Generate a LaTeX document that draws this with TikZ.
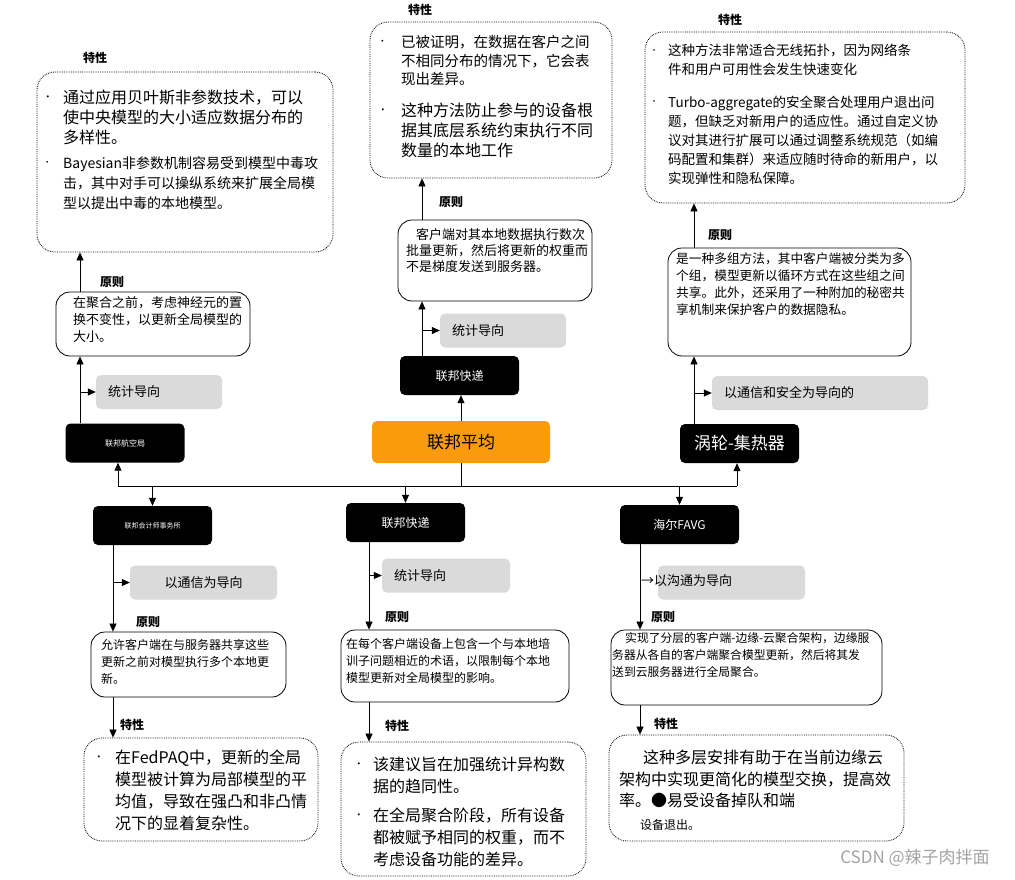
\documentclass[tikz,border=0pt]{standalone}
\usepackage{fontspec}
\setmainfont{Noto Sans CJK SC}
\usepackage{graphicx}
\usetikzlibrary{arrows.meta}
\definecolor{Orng}{HTML}{F99B0C}
\definecolor{Grey}{HTML}{DADADA}
\definecolor{Mark}{HTML}{A3A3A3}
\newcommand{\fsz}[2]{\fontsize{#1}{#2}\selectfont}
\newcommand{\bl}[1][20pt]{\makebox[#1][l]{\raisebox{0.2em}{\scalebox{0.6}{•}}}}
\newcommand{\ind}[1][20pt]{\hspace*{#1}}

\begin{document}
\begin{tikzpicture}[x=1pt,y=-1pt,
  feat/.style={draw,densely dotted,line width=0.8pt,rounded corners=18pt},
  prin/.style={draw,line width=0.8pt,rounded corners=14pt},
  grey/.style={fill=Grey,rounded corners=5pt,minimum height=34pt,inner xsep=12pt,align=left,font=\fsz{13}{15}},
  blk/.style={fill=black,text=white,rounded corners=5pt,minimum width=119pt,minimum height=39pt,inner sep=0pt},
  lab/.style={font=\fsz{12}{14}\bfseries},
  txt/.style={anchor=north west,align=left,inner sep=0pt},
  arr/.style={-{Triangle[length=8pt,width=7pt]},line width=0.7pt}]
  \fill[white] (0,0) rectangle (1015,880);

  % upper row
  \node[feat,minimum width=296pt,minimum height=180pt] (tl) at (185,162) {};
  \node[feat,minimum width=242pt,minimum height=156pt] (tc) at (491,100) {};
  \node[feat,minimum width=320pt,minimum height=171pt] (tr) at (805,117.5) {};
  \node[prin,minimum width=194pt,minimum height=64pt] (pl) at (153,324) {};
  \node[prin,minimum width=194pt,minimum height=81pt] (pc) at (495,260.5) {};
  \node[prin,minimum width=243pt,minimum height=108pt] (pr) at (789.5,302) {};
  \node[grey,text width=102pt] (gl) at (159,392) {统计导向};
  \node[grey,text width=102pt] (gc) at (503,330.5) {统计导向};
  \node[grey,text width=192pt] (gr) at (820,393) {以通信和安全为导向的};
  \node[blk,font=\fsz{8}{10}] (bl) at (125,443) {联邦航空局};
  \node[blk,font=\fsz{12}{14}] (bc) at (459.5,375.5) {联邦快递};
  \node[blk,font=\fsz{17}{20}] (br) at (739.5,443.5) {涡轮-集热器};
  \node[fill=Orng,rounded corners=5pt,minimum width=178pt,minimum height=42pt,font=\fsz{17}{20}] (fa) at (461,442) {联邦平均};

  % lower row
  \node[blk,font=\fsz{7}{9}] (bml) at (152.5,525.5) {联邦会计师事务所};
  \node[blk,font=\fsz{12}{14}] (bmc) at (405.5,522.5) {联邦快递};
  \node[blk,font=\fsz{12}{14}] (bmr) at (679.5,524.5) {海尔FAVG};
  \node[grey,text width=123pt,align=center] (gml) at (203.5,582.5) {以通信为导向};
  \node[grey,text width=104pt] (gmc) at (446,575.5) {统计导向};
  \node[grey,minimum width=147pt] (gmr) at (731.5,582.5) {};
  \node[font=\fsz{13}{15},anchor=west,inner sep=0pt] (gmrt) at (641,581) {→以沟通为导向};
  \node[prin,minimum width=195pt,minimum height=65pt] (pml) at (188.5,664.5) {};
  \node[prin,minimum width=228pt,minimum height=72pt] (pmc) at (455,666) {};
  \node[prin,minimum width=271pt,minimum height=75pt] (pmr) at (746.5,667.5) {};
  \node[feat,minimum width=234pt,minimum height=103pt] (fml) at (201,789.5) {};
  \node[feat,minimum width=245pt,minimum height=134pt] (fmc) at (463.5,809) {};
  \node[feat,minimum width=295pt,minimum height=106pt] (fmr) at (756.5,788) {};

  % labels
  \foreach \n/\x/\y in {ka/95/58,kb/420/10,kc/730/20,kd/132/725,ke/397/726,kf/666/724}
    \node[lab] (\n) at (\x,\y) {特性};
  \foreach \n/\x/\y in {ya/112/282,yb/451/202,yc/720/235,yd/148/622,ye/397/617,yf/663/617}
    \node[lab] (\n) at (\x,\y) {原则};

  % texts
  \node[txt,font=\fsz{16}{20}] (tla) at (43,90) {\bl 通过应用贝叶斯非参数技术，可以\\
    \ind 使中央模型的大小适应数据分布的\\ \ind 多样性。};
  \node[txt,font=\fsz{14}{20}] (tlb) at (43,156) {\bl Bayesian非参数机制容易受到模型中毒攻\\
    \ind 击，其中对手可以操纵系统来扩展全局模\\ \ind 型以提出中毒的本地模型。};
  \node[txt,font=\fsz{14.5}{18.5}] (tca) at (378,35) {\bl[23pt]已被证明，在数据在客户之间\\
    \ind[23pt]不相同分布的情况下，它会表\\ \ind[23pt]现出差异。};
  \node[txt,font=\fsz{16}{20}] (tcb) at (378,103) {\bl[23pt]这种方法防止参与的设备根\\
    \ind[23pt]据其底层系统约束执行不同\\ \ind[23pt]数量的本地工作};
  \node[txt,font=\fsz{13.5}{19}] (tra) at (650,44) {\bl[18pt]这种方法非常适合无线拓扑，因为网络条\\
    \ind[18pt]件和用户可用性会发生快速变化};
  \node[txt,font=\fsz{13.5}{19}] (trb) at (650,96) {\bl[18pt]Turbo-aggregate的安全聚合处理用户退出问\\
    \ind[18pt]题，但缺乏对新用户的适应性。通过自定义协\\
    \ind[18pt]议对其进行扩展可以通过调整系统规范（如编\\
    \ind[18pt]码配置和集群）来适应随时待命的新用户，以\\
    \ind[18pt]实现弹性和隐私保障。};
  \node[txt,font=\fsz{13}{17}] (plt) at (73,296) {在聚合之前，考虑神经元的置\\换不变性，以更新全局模型的\\大小。};
  \node[txt,font=\fsz{13}{16}] (pct) at (406,228) {\ind[10pt]客户端对其本地数据执行数次\\批量更新，然后将更新的权重而\\不是梯度发送到服务器。};
  \node[txt,font=\fsz{12.7}{17}] (prt) at (676,253) {是一种多组方法，其中客户端被分类为多\\个组，模型更新以循环方式在这些组之间\\共享。此外，还采用了一种附加的秘密共\\享机制来保护客户的数据隐私。};
  \node[txt,font=\fsz{12}{17}] (pmlt) at (101,639) {允许客户端在与服务器共享这些\\更新之前对模型执行多个本地更\\新。};
  \node[txt,font=\fsz{12}{17}] (pmct) at (346,638) {在每个客户端设备上包含一个与本地培\\训子问题相近的术语，以限制每个本地\\模型更新对全局模型的影响。};
  \node[txt,font=\fsz{11.8}{17}] (pmrt) at (612,632) {\ind[13pt]实现了分层的客户端-边缘-云聚合架构，边缘服\\务器从各自的客户端聚合模型更新，然后将其发\\送到云服务器进行全局聚合。};
  \node[txt,font=\fsz{16}{22}] (fmlt) at (94,750) {\bl[21pt]在FedPAQ中，更新的全局\\
    \ind[21pt]模型被计算为局部模型的平\\ \ind[21pt]均值，导致在强凸和非凸情\\ \ind[21pt]况下的显着复杂性。};
  \node[txt,font=\fsz{16}{22}] (fmct) at (354,757) {\bl[19pt]该建议旨在加强统计异构数\\
    \ind[19pt]据的趋同性。\\[7pt] \bl[19pt]在全局聚合阶段，所有设备\\
    \ind[19pt]都被赋予相同的权重，而不\\ \ind[19pt]考虑设备功能的差异。};
  \node[txt,font=\fsz{16}{21.5}] (fmrt) at (619,750) {\ind[24pt]这种多层安排有助于在当前边缘云\\架构中实现更简化的模型交换，提高效\\率。●易受设备掉队和端};
  \node[font=\fsz{12}{14},anchor=west,inner sep=0pt] (fmru) at (640,825) {设备退出。};
  \node[font=\fsz{17}{20},text=Mark] (wm) at (915,858) {CSDN @辣子肉拌面};

  % columns
  \coordinate (xa) at (80,0);  \coordinate (xb) at (422,0);  \coordinate (xc) at (694,0);
  \coordinate (xd) at (113,0); \coordinate (xe) at (369,0);  \coordinate (xf) at (640,0);
  \coordinate (busL) at (118,486); \coordinate (busR) at (737,486);

  \draw[arr] (bl.north -| xa) -- (pl.south -| xa);
  \draw[arr] (pl.north -| xa) -- (tl.south -| xa);
  \draw[arr] (gl.west -| xa) -- (gl.west);
  \draw[arr] (bc.north -| xb) -- (pc.south -| xb);
  \draw[arr] (pc.north -| xb) -- (tc.south -| xb);
  \draw[arr] (gc.west -| xb) -- (gc.west);
  \draw[arr] (br.north -| xc) -- (pr.south -| xc);
  \draw[arr] (pr.north -| xc) -- (tr.south -| xc);
  \draw[arr] (gr.west -| xc) -- (gr.west);

  \draw[line width=0.7pt] (busL) -- (busR);
  \draw[line width=0.7pt] (fa.south) -- (fa.south |- busL);
  \draw[arr] (fa.north) -- (fa.north |- bc.south);
  \draw[arr] (busL) -- (bl.south -| busL);
  \draw[arr] (busR) -- (br.south -| busR);
  \draw[arr] (bml.north |- busL) -- (bml.north);
  \draw[arr] (bmc.north |- busL) -- (bmc.north);
  \draw[arr] (bmr.north |- busL) -- (bmr.north);

  \draw[arr] (bml.south -| xd) -- (pml.north -| xd);
  \draw[arr] (pml.south -| xd) -- (fml.north -| xd);
  \draw[arr] (gml.west -| xd) -- (gml.west);
  \draw[arr] (bmc.south -| xe) -- (pmc.north -| xe);
  \draw[arr] (pmc.south -| xe) -- (fmc.north -| xe);
  \draw[arr] (gmc.west -| xe) -- (gmc.west);
  \draw[arr] (bmr.south -| xf) -- (pmr.north -| xf);
  \draw[arr] (pmr.south -| xf) -- (fmr.north -| xf);
\end{tikzpicture}
\end{document}
